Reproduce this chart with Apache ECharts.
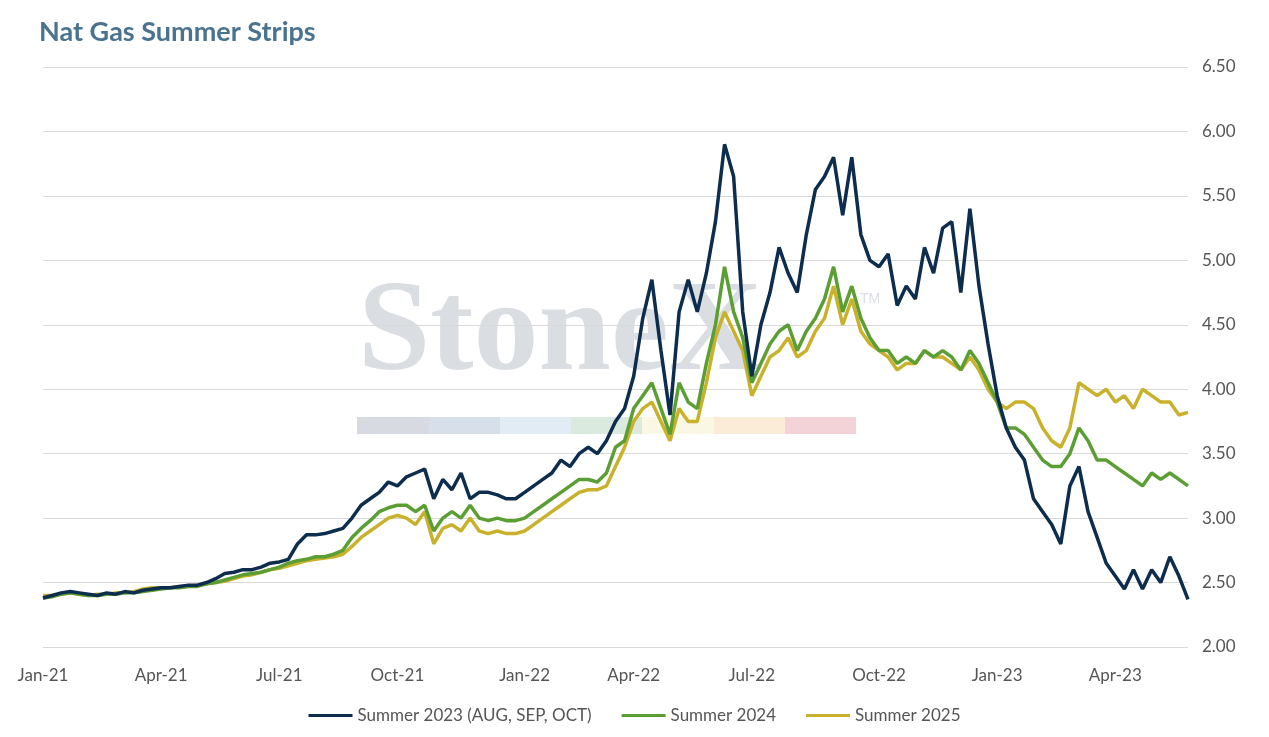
<!DOCTYPE html>
<html><head><meta charset="utf-8">
<script src="https://cdn.jsdelivr.net/npm/echarts@6/dist/echarts.min.js"></script>
<style>html,body{margin:0;padding:0;background:#fff}#c{width:1269px;height:737px}</style>
</head><body><div id="c"></div>
<script>
const START = '2021-01-01';
const WEEKS = 127;
const summer2023 = [2.38,2.40,2.42,2.43,2.42,2.41,2.40,2.42,2.41,2.43,2.42,2.44,2.45,2.46,2.46,2.47,2.48,2.48,2.50,2.53,2.57,2.58,2.60,2.60,2.62,2.65,
2.66,2.68,2.80,2.87,2.87,2.88,2.90,2.92,3.00,3.10,3.15,3.20,3.28,3.25,3.32,3.35,3.38,3.15,3.30,3.22,3.35,3.15,3.20,3.20,3.18,3.15,
3.15,3.20,3.25,3.30,3.35,3.45,3.40,3.50,3.55,3.50,3.60,3.75,
3.85,4.10,4.55,4.85,4.30,3.80,4.60,4.85,4.60,4.90,5.30,5.90,5.65,4.60,4.10,4.50,4.75,5.10,4.90,4.75,5.20,5.55,5.65,5.80,5.35,5.80,5.20,5.00,4.95,5.05,4.65,4.80,4.70,5.10,4.90,5.25,5.30,4.75,5.40,4.80,4.35,3.95,3.70,3.55,3.45,3.15,3.05,2.95,2.80,3.25,3.40,3.05,2.85,2.65,2.55,2.45,2.60,2.45,2.60,2.50,2.70,2.55,2.37];
const summer2024 = [2.38,2.39,2.41,2.42,2.41,2.40,2.40,2.41,2.41,2.42,2.42,2.43,2.44,2.45,2.46,2.46,2.47,2.47,2.49,2.50,2.52,2.54,2.56,2.57,2.58,2.60,
2.62,2.65,2.67,2.68,2.70,2.70,2.72,2.75,2.85,2.92,2.98,3.05,3.08,3.10,3.10,3.05,3.10,2.90,3.00,3.05,3.00,3.10,3.00,2.98,3.00,2.98,
2.98,3.00,3.05,3.10,3.15,3.20,3.25,3.30,3.30,3.28,3.35,3.55,
3.60,3.85,3.95,4.05,3.85,3.65,4.05,3.90,3.85,4.20,4.50,4.95,4.60,4.40,4.05,4.20,4.35,4.45,4.50,4.30,4.45,4.55,4.70,4.95,4.60,4.80,4.55,4.40,4.30,4.30,4.20,4.25,4.20,4.30,4.25,4.30,4.25,4.15,4.30,4.20,4.05,3.90,3.70,3.70,3.65,3.55,3.45,3.40,3.40,3.50,3.70,3.60,3.45,3.45,3.40,3.35,3.30,3.25,3.35,3.30,3.35,3.30,3.25];
const summer2025 = [2.40,2.40,2.41,2.42,2.41,2.40,2.41,2.41,2.42,2.42,2.43,2.45,2.46,2.46,2.46,2.47,2.47,2.48,2.49,2.50,2.51,2.53,2.55,2.56,2.58,2.60,
2.61,2.63,2.65,2.67,2.68,2.69,2.70,2.72,2.78,2.85,2.90,2.95,3.00,3.02,3.00,2.95,3.05,2.80,2.92,2.95,2.90,3.00,2.90,2.88,2.90,2.88,
2.88,2.90,2.95,3.00,3.05,3.10,3.15,3.20,3.22,3.22,3.25,3.40,
3.55,3.75,3.85,3.90,3.75,3.60,3.85,3.75,3.75,4.05,4.40,4.60,4.45,4.30,3.95,4.10,4.25,4.30,4.40,4.25,4.30,4.45,4.55,4.80,4.50,4.70,4.45,4.35,4.30,4.25,4.15,4.20,4.20,4.30,4.25,4.25,4.20,4.15,4.25,4.15,4.00,3.90,3.85,3.90,3.90,3.85,3.70,3.60,3.55,3.70,4.05,4.00,3.95,4.00,3.90,3.95,3.85,4.00,3.95,3.90,3.90,3.80,3.82];
const MONTHS=['Jan','Feb','Mar','Apr','May','Jun','Jul','Aug','Sep','Oct','Nov','Dec'];
const dates=[];
for(let i=0;i<WEEKS;i++){const d=new Date(START+'T00:00:00Z');d.setUTCDate(d.getUTCDate()+7*i);dates.push(d);}
const cats=dates.map(d=>d.toISOString().slice(0,10));
function isQ(i){const d=dates[i];return d.getUTCDate()<=7&&d.getUTCMonth()%3===0;}
const chart=echarts.init(document.getElementById('c'));
chart.setOption({
  animation:false,
  title:{text:'Nat Gas Summer Strips',left:34,top:14,textStyle:{color:'#4a7390',fontSize:27,fontWeight:'bold',fontFamily:'Lato'}},
  graphic:[
    {type:'text',left:358,top:270,z:0,style:{text:'StoneX',font:'bold 130px "Liberation Serif"',fill:'rgba(150,160,175,0.35)'}},
    {type:'text',left:860,top:292,z:0,style:{text:'TM',font:'14px sans-serif',fill:'rgba(150,160,175,0.35)'}},
    {type:'rect',shape:{x:357,y:417,width:72,height:17},style:{fill:'rgba(140,150,170,0.35)'}},
    {type:'rect',shape:{x:429,y:417,width:71,height:17},style:{fill:'rgba(140,165,195,0.35)'}},
    {type:'rect',shape:{x:500,y:417,width:71,height:17},style:{fill:'rgba(170,200,225,0.35)'}},
    {type:'rect',shape:{x:571,y:417,width:71,height:17},style:{fill:'rgba(150,195,160,0.35)'}},
    {type:'rect',shape:{x:642,y:417,width:72,height:17},style:{fill:'rgba(240,235,180,0.35)'}},
    {type:'rect',shape:{x:714,y:417,width:71,height:17},style:{fill:'rgba(240,200,140,0.35)'}},
    {type:'rect',shape:{x:785,y:417,width:71,height:17},style:{fill:'rgba(220,130,140,0.35)'}}
  ],
  grid:{left:43,right:81,top:67,bottom:90},
  legend:{bottom:8,left:'center',itemWidth:44,itemHeight:3,itemGap:30,icon:'rect',
    textStyle:{fontSize:17,color:'#555',fontFamily:'Lato'},
    data:['Summer 2023 (AUG, SEP, OCT)','Summer 2024','Summer 2025']},
  xAxis:{type:'category',data:cats,boundaryGap:false,
    axisLine:{show:false},axisTick:{show:false},
    axisLabel:{interval:(i)=>isQ(i),fontSize:17,color:'#555',margin:20,fontFamily:'Lato',
      formatter:(v)=>{const d=new Date(v+'T00:00:00Z');return MONTHS[d.getUTCMonth()]+'-'+String(d.getUTCFullYear()).slice(2);}},
    splitLine:{show:false}},
  yAxis:{type:'value',position:'right',min:2,max:6.5,interval:0.5,
    axisLabel:{formatter:v=>v.toFixed(2),fontSize:17,color:'#555',margin:14,fontFamily:'Lato'},
    axisLine:{show:false},axisTick:{show:false},splitLine:{lineStyle:{color:'#d9d9d9'}}},
  series:[
    {name:'Summer 2025',type:'line',data:summer2025,showSymbol:false,z:3,lineStyle:{width:3.5,color:'#c9b12c'},itemStyle:{color:'#c9b12c'}},
    {name:'Summer 2024',type:'line',data:summer2024,showSymbol:false,z:4,lineStyle:{width:3.5,color:'#5b9e33'},itemStyle:{color:'#5b9e33'}},
    {name:'Summer 2023 (AUG, SEP, OCT)',type:'line',data:summer2023,showSymbol:false,z:5,lineStyle:{width:3.5,color:'#0d2d4f'},itemStyle:{color:'#0d2d4f'}}
  ]
});
</script></body></html>
